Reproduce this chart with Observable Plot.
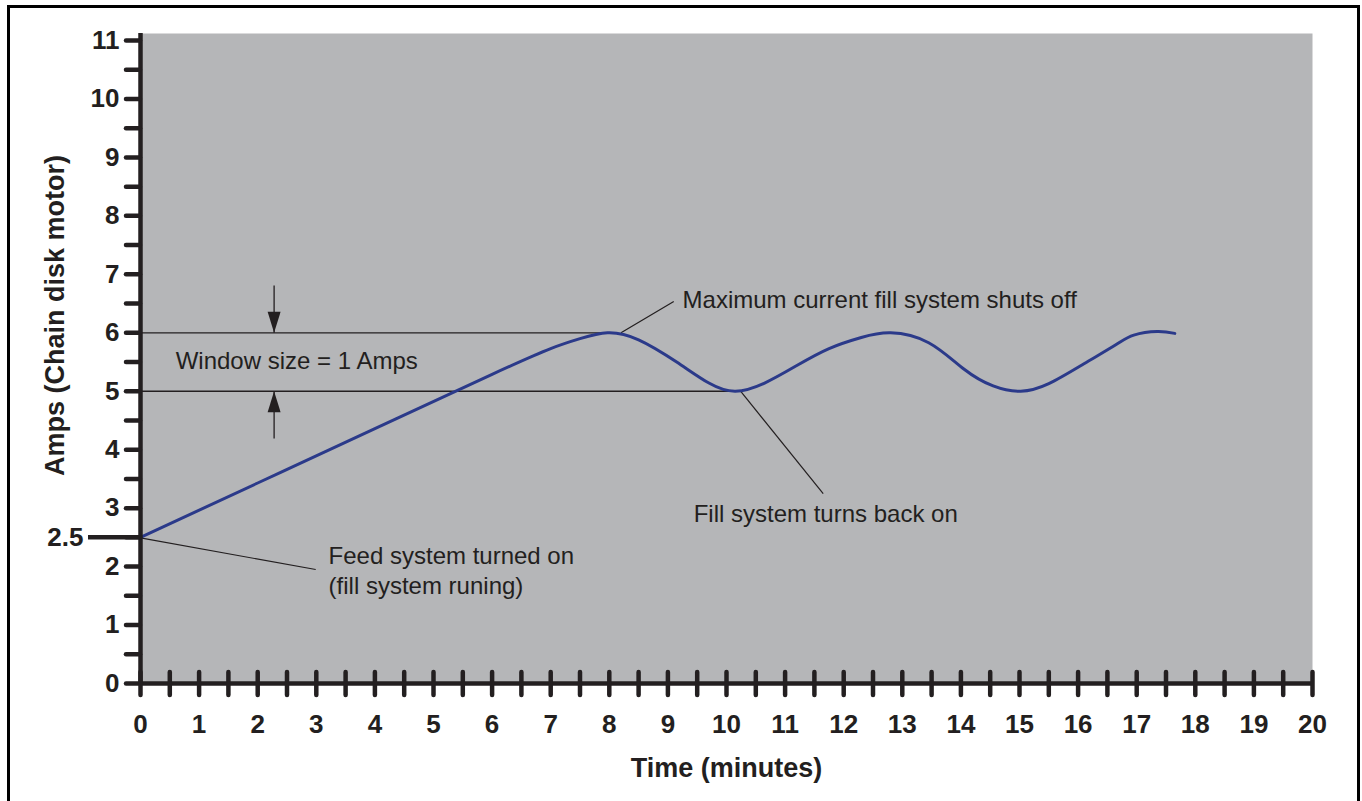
<!DOCTYPE html>
<html>
<head>
<meta charset="utf-8">
<script src="https://cdn.jsdelivr.net/npm/d3@7"></script>
<script src="https://cdn.jsdelivr.net/npm/@observablehq/plot@0.6"></script>
<style>
  html, body { margin: 0; padding: 0; background: #fff; overflow: hidden; }
  #wrap { position: relative; width: 1362px; height: 801px; }
  #border { position: absolute; left: 7px; top: 5px; width: 1347px; height: 900px; border: 3px solid #000; pointer-events: none; }
</style>
</head>
<body>
<div id="wrap"><div id="chart"></div><div id="border"></div></div>
<script>
// Curve readings: time (minutes) and current (amps)
const timeMin = [0, 2, 4, 6, 7, 7.5, 7.97, 8.5, 9.15, 9.7, 10.15, 10.65, 11.2, 11.75, 12.3, 12.8, 13.45, 14.05, 14.55, 15.02, 15.5, 16.1, 16.65, 16.95, 17.35, 17.65];
const amps    = [2.5, 3.43, 4.36, 5.29, 5.73, 5.9, 6.0, 5.88, 5.5, 5.14, 5.0, 5.14, 5.44, 5.73, 5.92, 6.0, 5.83, 5.38, 5.09, 5.0, 5.13, 5.47, 5.8, 5.96, 6.02, 5.99];

// Axis ticks
const xLabelTicks = d3.range(0, 21, 1);
const xAllTicks = d3.range(0, 20.01, 0.5);
const yAllTicks = d3.range(0, 11.01, 0.5);
const yStartTick = [2.5];

// Window limits
const windowLimits = [{y: 6, xEnd: 8.0}, {y: 5, xEnd: 10.24}];

// Annotation texts
const noteTexts = ["Maximum current fill system shuts off", "Window size = 1 Amps", "Fill system turns back on", "Feed system turned on", "(fill system runing)"];
const noteX = [9.25, 0.6, 9.44, 3.21, 3.21];
const noteY = [6.56, 5.52, 2.89, 2.17, 1.67];

// Leader lines
const leaders = [
  {x1: 8.2, y1: 6.0, x2: 9.1, y2: 6.535},
  {x1: 10.24, y1: 5.0, x2: 11.65, y2: 3.25},
  {x1: 0, y1: 2.49, x2: 2.99, y2: 1.95}
];
// Window arrows
const arrowShafts = [
  {x1: 2.28, y1: 6.81, x2: 2.28, y2: 6.0},
  {x1: 2.28, y1: 4.19, x2: 2.28, y2: 5.0}
];
const arrowHeads = [{x: 2.28, y: 6, rot: 180}, {x: 2.28, y: 5, rot: 0}];

const curve = timeMin.map((t, i) => ({t, a: amps[i]}));
const notes = noteTexts.map((text, i) => ({text, x: noteX[i], y: noteY[i]}));

const ink = "#231f20";
const lineShape = {draw(ctx, l) { ctx.moveTo(0, 0); ctx.lineTo(0, -l); }};

const chart = Plot.plot({
  width: 1362,
  height: 801,
  marginLeft: 140,
  marginRight: 50,
  marginTop: 33,
  marginBottom: 118,
  x: {domain: [0, 20]},
  y: {domain: [0, 11.12]},
  style: {fontFamily: "'Liberation Sans', Arial, Helvetica, sans-serif", color: ink, background: "transparent", overflow: "visible"},
  marks: [
    Plot.frame({fill: "#b5b6b8", stroke: "none"}),
    Plot.ruleY(windowLimits, {y: "y", x1: 0, x2: "xEnd", stroke: ink, strokeWidth: 1.3}),
    Plot.link(leaders, {x1: "x1", y1: "y1", x2: "x2", y2: "y2", stroke: ink, strokeWidth: 1.2}),
    Plot.link(arrowShafts, {x1: "x1", y1: "y1", x2: "x2", y2: "y2", stroke: ink, strokeWidth: 1.3}),
    Plot.vector(arrowHeads, {x: "x", y: "y", rotate: "rot", length: 21, r: 6.5, shape: "spike", anchor: "end", fill: ink, stroke: "none"}),
    Plot.line(curve, {x: "t", y: "a", curve: "natural", stroke: "#2b3a8a", strokeWidth: 3}),
    Plot.text(notes, {x: "x", y: "y", text: "text", textAnchor: "start", fontSize: 24, fill: ink}),
    // axes
    Plot.ruleX([0], {stroke: ink, strokeWidth: 4.5}),
    Plot.ruleY([0], {stroke: ink, strokeWidth: 4.5}),
    Plot.axisY(yAllTicks, {tickSize: 14, tickPadding: 7, strokeWidth: 4.5, strokeLinecap: "round", tickFormat: d => (d % 1 === 0 ? String(d) : ""), fontSize: 26, fontWeight: "bold", label: null, stroke: ink, fill: ink}),
    Plot.axisY(yStartTick, {tickSize: 52, tickPadding: 5, strokeWidth: 4.5, tickFormat: d => String(d), fontSize: 26, fontWeight: "bold", label: null, stroke: ink, fill: ink}),
    Plot.vector(xAllTicks, {x: d => d, y: d => 0, length: 23, rotate: 0, anchor: "middle", shape: lineShape, stroke: ink, strokeWidth: 4.5, strokeLinecap: "round"}),
    Plot.axisX(xLabelTicks, {tickSize: 0, tickPadding: 31, tickFormat: d => String(d), fontSize: 26, fontWeight: "bold", label: null, fill: ink}),
    Plot.text(["Time (minutes)"], {frameAnchor: "bottom", dy: 93, fontSize: 27, fontWeight: "bold", fill: ink}),
    Plot.text(["Amps (Chain disk motor)"], {frameAnchor: "left", textAnchor: "middle", dx: -85, dy: -43, rotate: -90, fontSize: 27, fontWeight: "bold", fill: ink})
  ]
});
document.getElementById("chart").appendChild(chart);
</script>
</body>
</html>
